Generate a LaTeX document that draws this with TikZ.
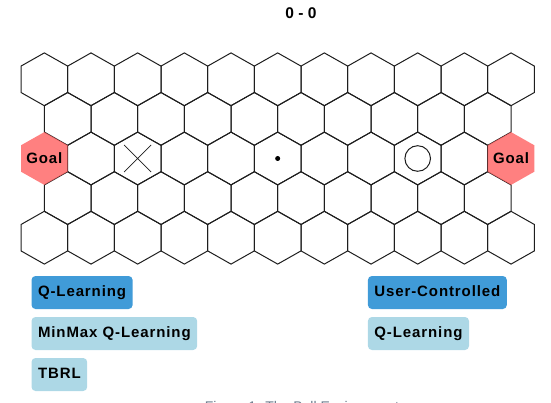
\documentclass[tikz,border=0pt]{standalone}
\usepackage{fontspec}
\usetikzlibrary{calc}
\setmainfont{Liberation Sans}
\newfontfamily\lsfont{Liberation Sans}[LetterSpace=6]
\definecolor{btndark}{HTML}{409BD8}
\definecolor{btnlight}{HTML}{ADD8E6}
\definecolor{goalred}{HTML}{FF6060}
\definecolor{capgray}{HTML}{6B7B8C}
\definecolor{gridline}{HTML}{1E1E1E}
\tikzset{
  cellline/.style={draw=gridline, line width=1pt, line join=miter},
  hexcell/.pic={\draw[cellline] (0,-26.4) -- (23.33,-13.2) -- (23.33,13.2) -- (0,26.4) -- (-23.33,13.2) -- (-23.33,-13.2) -- cycle;},
  goalcell/.pic={\fill[goalred, fill opacity=0.8] (0,-26.4) -- (23.33,-13.2) -- (23.33,13.2) -- (0,26.4) -- (-23.33,13.2) -- (-23.33,-13.2) -- cycle;},
  goaltext/.style={font=\lsfont\bfseries\fontsize{15}{18}\selectfont, text=black, inner sep=0pt},
  btnbase/.style={font=\lsfont\bfseries\fontsize{15}{18}\selectfont, text=black, rounded corners=4pt, minimum height=33pt, inner ysep=0pt, inner xsep=6.5pt, anchor=west, text height=11pt, text depth=3pt},
  btnsel/.style={btnbase, fill=btndark},
  btnopt/.style={btnbase, fill=btnlight},
  titletext/.style={font=\bfseries\fontsize{15.5}{18}\selectfont, text=black, inner sep=0pt},
  captext/.style={font=\fontsize{14}{17}\selectfont, text=capgray, inner sep=0pt, anchor=north}
}
\begin{document}
\begin{tikzpicture}[x=1pt,y=-1pt]
\useasboundingbox (0,0) rectangle (551,403);
% title
\node[titletext] (title) at (301,13) {0 - 0};
% full rows
\foreach \r [evaluate=\r as \cy using 79.3+39.6*\r] in {0,2,4} {
  \foreach \c [evaluate=\c as \cx using 44.33+46.67*\c] in {0,...,10} {
    \coordinate (h-\r-\c) at (\cx,\cy);
  }
}
\foreach \r [evaluate=\r as \cy using 79.3+39.6*\r] in {1,3} {
  \foreach \c [evaluate=\c as \cx using 67.67+46.67*\c] in {0,...,9} {
    \coordinate (h-\r-\c) at (\cx,\cy);
  }
}
\foreach \r in {0,4} {\foreach \c in {0,...,10} {\pic at (h-\r-\c) {hexcell};}}
\foreach \r in {1,3} {\foreach \c in {0,...,9} {\pic at (h-\r-\c) {hexcell};}}
\foreach \c in {1,...,9} {\pic at (h-2-\c) {hexcell};}
% goals
\pic at (h-2-0) {goalcell};
\pic at (h-2-10) {goalcell};
\node[goaltext] (goalL) at (h-2-0) {Goal};
\node[goaltext] (goalR) at (h-2-10) {Goal};
% markers
\coordinate (xa) at ($(h-2-2)+(-13.5,-13.5)$);
\coordinate (xb) at ($(h-2-2)+(13.5,13.5)$);
\coordinate (xc) at ($(h-2-2)+(-13.5,13.5)$);
\coordinate (xd) at ($(h-2-2)+(13.5,-13.5)$);
\draw[draw=gridline, line width=0.8pt] (xa) -- (xb) (xc) -- (xd);
\node[circle, fill=black, inner sep=0pt, minimum size=5pt] (ball) at (h-2-5) {};
\node[circle, draw=gridline, line width=1pt, inner sep=0pt, minimum size=25.6pt] (player) at (h-2-8) {};
% buttons
\node[btnsel] (bq) at (31.3,292.5) {Q-Learning};
\node[btnopt] (bm) at (31.3,333.5) {MinMax Q-Learning};
\node[btnopt] (bt) at (31.3,374.5) {TBRL};
\node[btnsel] (bu) at (367.7,292.5) {User-Controlled};
\node[btnopt] (bq2) at (367.7,333.5) {Q-Learning};
% caption (clipped by page edge)
\node[captext] (cap) at (302,401) {Figure 1: The Ball Environment};
\end{tikzpicture}
\end{document}
